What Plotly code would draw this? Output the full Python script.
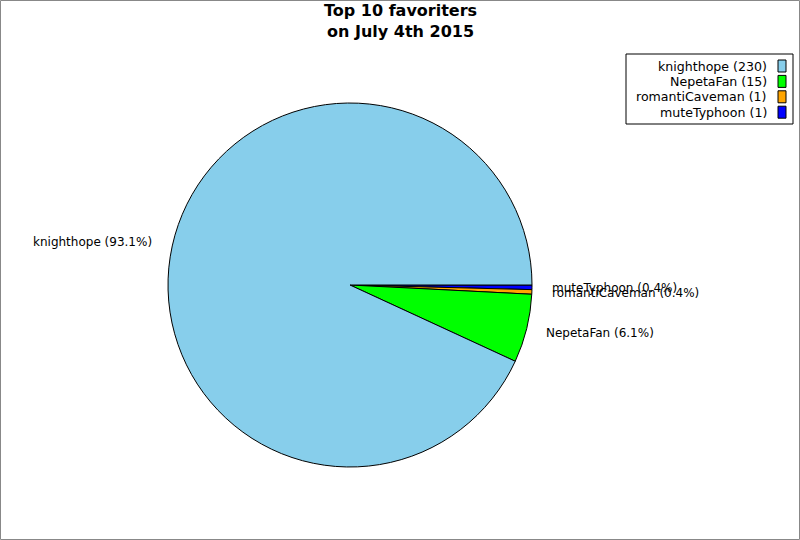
import math
import plotly.graph_objects as go

title_lines = ["Top 10 favoriters", "on July 4th 2015"]
names = ["knighthope", "NepetaFan", "romantiCaveman", "muteTyphoon"]
counts = [230, 15, 1, 1]
colors = ["#87CEEB", "#00FF00", "#FFA500", "#0000FF"]

W, H = 800, 540
cx, cy, R = 350, 285, 182
FONT = "DejaVu Sans"

fig = go.Figure()
# drawn clockwise from 3 o'clock in reversed order == counterclockwise in original order
fig.add_trace(go.Pie(
    labels=names[::-1], values=counts[::-1], sort=False, direction="clockwise",
    rotation=90, textinfo="none", hoverinfo="label+value+percent",
    marker=dict(colors=colors[::-1], line=dict(color="black", width=1)),
    domain=dict(x=[(cx - R) / W, (cx + R) / W],
                y=[(H - cy - R) / H, (H - cy + R) / H]),
    showlegend=False,
))

total = sum(counts)
annotations = []
cum = 0.0
for n, c in zip(names, counts):
    frac = c / total
    mid = (cum + frac / 2) * 2 * math.pi
    cum += frac
    lx = cx + 1.1 * R * math.cos(mid)
    ly = cy - 1.1 * R * math.sin(mid)
    annotations.append(dict(
        x=lx / W, y=1 - ly / H, xref="paper", yref="paper",
        text=f"{n} ({frac*100:.1f}%)", showarrow=False,
        xanchor="left" if math.cos(mid) >= 0 else "right", yanchor="middle",
        font=dict(family=FONT, size=12, color="black"),
    ))

shapes = [dict(type="rect", xref="paper", yref="paper", x0=0.5 / W, x1=1 - 0.5 / W,
               y0=0.5 / H, y1=1 - 0.5 / H, line=dict(color="#888888", width=1))]
shapes.append(dict(type="rect", xref="paper", yref="paper",
                   x0=626 / W, x1=793 / W, y0=1 - 124 / H, y1=1 - 54 / H,
                   line=dict(color="black", width=1), fillcolor="white"))
for i, (n, c, col) in enumerate(zip(names, counts, colors)):
    ry = 66 + i * 15.4
    annotations.append(dict(
        x=769 / W, y=1 - ry / H, xref="paper", yref="paper",
        text=f"{n} ({c})", showarrow=False, xanchor="right", yanchor="middle",
        font=dict(family=FONT, size=12.6, color="black"),
    ))
    shapes.append(dict(type="rect", xref="paper", yref="paper",
                       x0=778 / W, x1=786 / W, y0=1 - (ry + 6) / H, y1=1 - (ry - 6) / H,
                       line=dict(color="black", width=1), fillcolor=col))

annotations.append(dict(
    x=400 / W, y=1 - 21 / H, xref="paper", yref="paper",
    text="<b>" + "<br>".join(title_lines) + "</b>", showarrow=False,
    xanchor="center", yanchor="middle",
    font=dict(family=FONT, size=16, color="black"),
))

fig.update_layout(
    width=W, height=H, margin=dict(l=0, r=0, t=0, b=0),
    paper_bgcolor="white", plot_bgcolor="white",
    annotations=annotations, shapes=shapes,
)
fig.write_html("out.html", config={"displayModeBar": False},
               post_script="document.body.style.margin='0';")
